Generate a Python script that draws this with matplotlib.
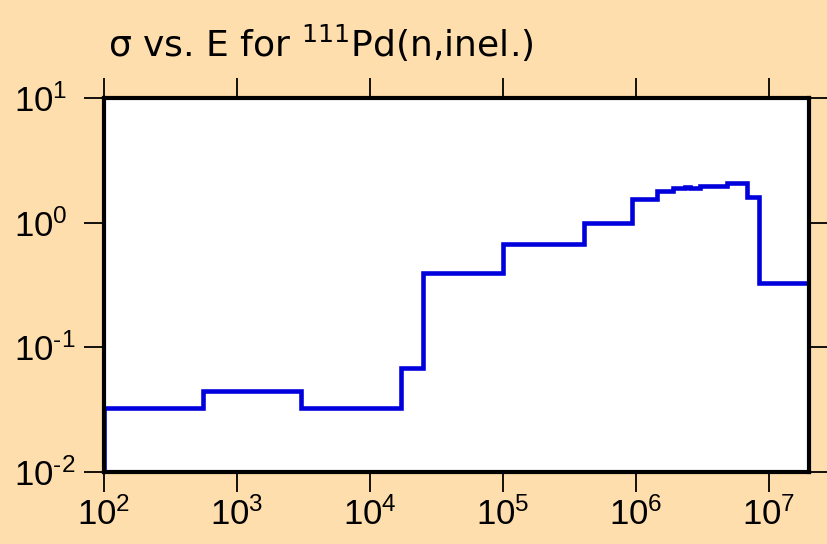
import matplotlib
matplotlib.use('Agg')
import matplotlib.pyplot as plt

# group boundaries (eV) and cross sections (b)
edges = [1e2, 555, 3030, 1.71e4, 2.5e4, 1e5, 4.06e5, 9.3e5, 1.44e6, 1.9e6,
         2.33e6, 2.55e6, 3.03e6, 4.83e6, 6.84e6, 8.41e6, 2e7]
sigma = [0.0327, 0.0447, 0.0327, 0.0684, 0.395, 0.675, 1.0, 1.54, 1.81, 1.89,
         1.92, 1.89, 1.97, 2.07, 1.62, 0.328]
xticks = [1e2, 1e3, 1e4, 1e5, 1e6, 1e7]
xexp = ['2', '3', '4', '5', '6', '7']
yticks = [1e-2, 1e-1, 1e0, 1e1]
yexp = ['\u20102', '\u20101', '0', '1']   # short hyphen, like the original

plt.rcParams['font.family'] = ['Liberation Sans', 'DejaVu Sans']
plt.rcParams['mathtext.fontset'] = 'custom'
plt.rcParams['mathtext.rm'] = 'Liberation Sans'

bg = '#FFDEAD'
fig = plt.figure(figsize=(8.27, 5.44), dpi=100, facecolor=bg)
ax = fig.add_axes([104 / 827, 72 / 544, 705 / 827, 374 / 544])
ax.set_facecolor('white')

ax.stairs(sigma, edges, baseline=1e-2, color='#0000DD', lw=3.3)

ax.set_xscale('log'); ax.set_yscale('log')
ax.set_xlim(1e2, 2e7); ax.set_ylim(1e-2, 1e1)
ax.set_xticks(xticks, [r'$\mathregular{10^{%s}}$' % e for e in xexp])
ax.set_yticks(yticks, [r'$\mathregular{10^{%s}}$' % e for e in yexp])
ax.minorticks_off()
ax.tick_params(which='major', direction='out', length=14.5, width=1.3,
               labelsize=25, top=True, right=True, pad=4)
# y labels start at a common left edge in the original
ax.tick_params(axis='y', pad=50)
for lab in ax.get_yticklabels():
    lab.set_horizontalalignment('left')
for s in ax.spines.values():
    s.set_linewidth(3)

fig.text(108 / 827, (544 - 57) / 544,
         r'σ vs. E for $\mathregular{^{111}}$Pd(n,inel.)',
         fontsize=26, va='baseline', ha='left', family='DejaVu Sans')

fig.savefig('out.png', facecolor=bg)
